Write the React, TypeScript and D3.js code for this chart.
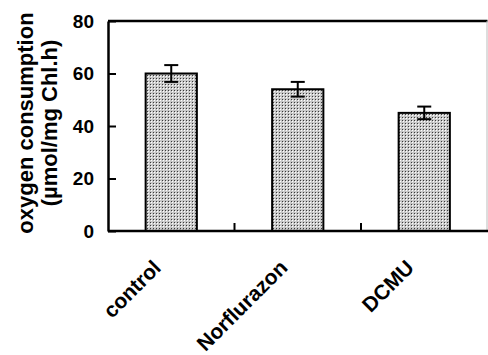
import React, { useEffect, useRef } from "react";
import * as d3 from "d3";

const categories = ["control", "Norflurazon", "DCMU"];
const values = [60, 54, 45];
const errors = [3.2, 2.8, 2.4];
const yTicks = [0, 20, 40, 60, 80];

const App = () => {
  const ref = useRef<SVGSVGElement>(null);

  useEffect(() => {
    const w = 488;
    const h = 355;
    const m = { left: 108, right: 487.5, top: 21, bottom: 231 };
    const font = "Liberation Sans, Arial, sans-serif";

    const svg = d3.select(ref.current).attr("width", w).attr("height", h);
    svg.selectAll("*").remove();

    // fill pattern for the bars
    const pat = svg.append("defs").append("pattern")
      .attr("id", "dots")
      .attr("width", 3)
      .attr("height", 3)
      .attr("patternUnits", "userSpaceOnUse");
    pat.append("rect").attr("width", 3).attr("height", 3).attr("fill", "#c8c8c8");
    pat.append("rect").attr("x", 0).attr("y", 0).attr("width", 1).attr("height", 1).attr("fill", "#3a3a3a");
    pat.append("rect").attr("x", 1).attr("y", 1).attr("width", 1).attr("height", 1).attr("fill", "#ffffff");

    const x = d3.scaleBand().domain(categories).range([m.left, m.right]).padding(0);
    const y = d3.scaleLinear().domain([0, 80]).range([m.bottom, m.top]);
    const bw = x.bandwidth() * 0.405;

    // bars
    svg.selectAll(".bar")
      .data(values)
      .join("rect")
      .attr("x", (d, i) => x(categories[i])! + (x.bandwidth() - bw) / 2)
      .attr("y", d => y(d))
      .attr("width", bw)
      .attr("height", d => y(0) - y(d))
      .attr("fill", "url(#dots)")
      .attr("stroke", "#000")
      .attr("stroke-width", 2);

    // error bars
    const eb = svg.append("g").attr("stroke", "#000").attr("stroke-width", 2);
    values.forEach((v, i) => {
      const cx = x(categories[i])! + x.bandwidth() / 2;
      eb.append("line").attr("x1", cx).attr("x2", cx).attr("y1", y(v + errors[i])).attr("y2", y(v - errors[i]));
      eb.append("line").attr("x1", cx - 7).attr("x2", cx + 7).attr("y1", y(v + errors[i])).attr("y2", y(v + errors[i]));
      eb.append("line").attr("x1", cx - 7).attr("x2", cx + 7).attr("y1", y(v - errors[i])).attr("y2", y(v - errors[i]));
    });

    // frame
    svg.append("line").attr("x1", m.left).attr("x2", m.right).attr("y1", m.top).attr("y2", m.top)
      .attr("stroke", "#000").attr("stroke-width", 2.5);
    svg.append("line").attr("x1", m.right - 0.5).attr("x2", m.right - 0.5).attr("y1", m.top).attr("y2", m.bottom)
      .attr("stroke", "#bbb").attr("stroke-width", 1);

    // y axis
    const yAxis = d3.axisLeft(y).tickValues(yTicks).tickSize(-8).tickPadding(14).tickSizeOuter(0);
    const gy = svg.append("g").attr("transform", `translate(${m.left},0)`).call(yAxis);
    gy.select(".domain").attr("stroke-width", 2.5);
    gy.selectAll(".tick line").attr("stroke-width", 2);
    gy.selectAll(".tick text")
      .attr("font-family", font)
      .attr("font-weight", "bold")
      .attr("font-size", 19)
      .attr("fill", "#000");

    // x axis with ticks between categories
    const bounds = categories.slice(1).map(c => x(c)!);
    svg.append("line").attr("x1", m.left).attr("x2", w).attr("y1", m.bottom).attr("y2", m.bottom)
      .attr("stroke", "#000").attr("stroke-width", 2.5);
    svg.selectAll(".xtick")
      .data(bounds)
      .join("line")
      .attr("x1", d => d).attr("x2", d => d)
      .attr("y1", m.bottom).attr("y2", m.bottom - 8)
      .attr("stroke", "#000").attr("stroke-width", 2);

    svg.selectAll(".xlab")
      .data(categories)
      .join("text")
      .attr("transform", d => `translate(${x(d)! + x.bandwidth() / 2 - 9},${m.bottom + 38}) rotate(-45)`)
      .attr("text-anchor", "end")
      .attr("font-family", font)
      .attr("font-weight", "bold")
      .attr("font-size", 21)
      .text(d => d);

    // y title
    const yt = svg.append("text")
      .attr("transform", `translate(0,123) rotate(-90)`)
      .attr("text-anchor", "middle")
      .attr("font-family", font)
      .attr("font-weight", "bold")
      .attr("font-size", 22);
    yt.append("tspan").attr("x", 0).attr("y", 33).text("oxygen consumption");
    yt.append("tspan").attr("x", 0).attr("y", 57).text("(\u00b5mol/mg Chl.h)");
  }, []);

  return (
    <div>
      <svg ref={ref} style={{ position: "absolute", left: 0, top: 0, background: "#fff" }}></svg>
    </div>
  );
};

export default App;
